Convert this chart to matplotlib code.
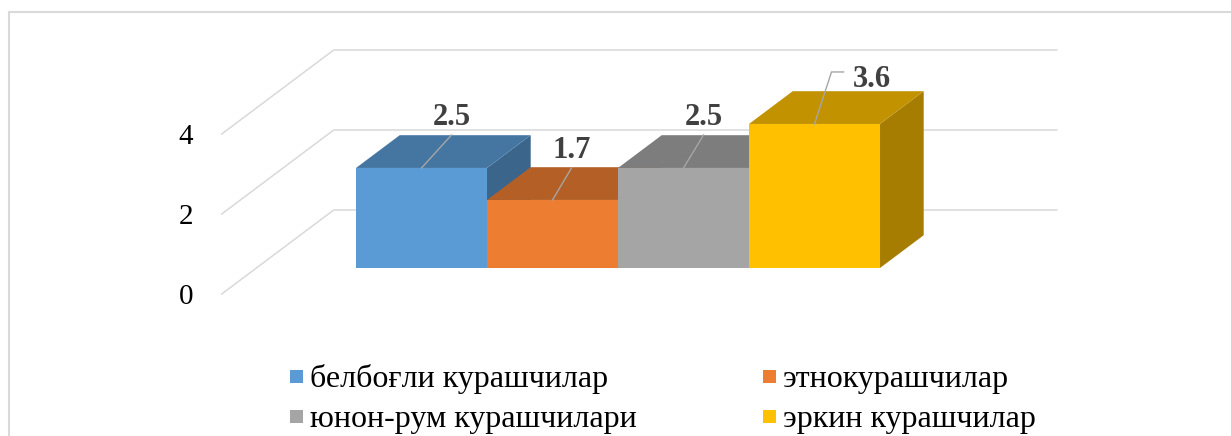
import matplotlib
import matplotlib.pyplot as plt
from matplotlib.patches import Polygon, Rectangle
from matplotlib.colors import to_rgb

categories = ['белбоғли курашчилар', 'этнокурашчилар',
              'юнон-рум курашчилари', 'эркин курашчилар']
values = [2.5, 1.7, 2.5, 3.6]
ticks = [0, 2, 4]
colors = ['#5B9BD5', '#ED7D31', '#A5A5A5', '#FFC000']

W, H = 1231, 436
PX_X, PX_Y = 131.0, 40.0             # pixels per category / per value unit
X0, Y0 = 386.8, 294.0                 # pixel position of category 0, value 0 (front of floor)
DX, DY = 112 / PX_X, 84 / PX_Y        # full floor depth in data units
D0, D1 = 0.31, 0.70                   # bar depth range
FLOOR_L, FLOOR_R = -1.26, 4.26
GRID = '#d9d9d9'


def proj(c, v, d):
    return c + DX * d, v + DY * d


def shade(col, f):
    r, g, b = to_rgb(col)
    return (r * f, g * f, b * f)


plt.rcParams['font.family'] = ['Liberation Serif', 'DejaVu Serif']

fig = plt.figure(figsize=(W / 100, H / 100), dpi=100)
ax = fig.add_axes([0, 0, 1, 1])
ax.set_xlim(-X0 / PX_X, (W - X0) / PX_X)
ax.set_ylim((Y0 - H) / PX_Y, Y0 / PX_Y)
ax.axis('off')

# outer frame (left and top edges only visible)
fig.add_artist(Rectangle((9 / W, -0.2), 1.2, 1.2 - 12 / H, transform=fig.transFigure,
                         fill=False, edgecolor=GRID, linewidth=1.5))

# walls gridlines + tick labels
for t in ticks:
    a = proj(FLOOR_L, t, 0)
    b = proj(FLOOR_L, t, 1)
    c = proj(FLOOR_R, t, 1)
    ax.plot([a[0], b[0], c[0]], [a[1], b[1], c[1]], color=GRID, lw=1.1, zorder=1)
    ax.annotate(str(t), xy=a, xytext=(-36, 0), textcoords='offset pixels',
                ha='center', va='center_baseline', fontsize=21, color='black')

# bars
for i, (v, col) in enumerate(zip(values, colors)):
    c0, c1 = i - 0.5, i + 0.5
    z = 2 + i
    top = [proj(c0, v, D0), proj(c1, v, D0), proj(c1, v, D1), proj(c0, v, D1)]
    side = [proj(c1, 0, D0), proj(c1, 0, D1), proj(c1, v, D1), proj(c1, v, D0)]
    front = [proj(c0, 0, D0), proj(c1, 0, D0), proj(c1, v, D0), proj(c0, v, D0)]
    ax.add_patch(Polygon(side, closed=True, facecolor=shade(col, 0.65), edgecolor='none', zorder=z))
    ax.add_patch(Polygon(top, closed=True, facecolor=shade(col, 0.76), edgecolor='none', zorder=z))
    ax.add_patch(Polygon(front, closed=True, facecolor=col, edgecolor='none', zorder=z))

# data labels with leader lines (offsets in pixels, y up)
label_off = [(30, 54), (19, 53), (20, 54), (57, 48)]
leaders = [[(0, -21)], [(0, -21)], [(0, -21)], [(-40, 4), (-28, 4)]]
for i, v in enumerate(values):
    ax_, ay_ = proj(i, v, D0)
    lx = ax_ + label_off[i][0] / PX_X
    ly = ay_ + label_off[i][1] / PX_Y
    xs = [ax_] + [lx + p[0] / PX_X for p in leaders[i]]
    ys = [ay_] + [ly + p[1] / PX_Y for p in leaders[i]]
    ax.plot(xs, ys, color='#a6a6a6', lw=1.0, zorder=10)
    ax.text(lx, ly, f'{v:.1f}', ha='center', va='center_baseline', fontsize=22,
            fontweight='bold', color='#404040', zorder=11)

# legend
leg_x = [290, 763]
leg_y = [376, 416]
order = [(0, 0), (1, 0), (0, 1), (1, 1)]  # (column, row) for each category
for (col_i, row_i), name, col in zip(order, categories, colors):
    x = leg_x[col_i]
    y = leg_y[row_i]
    fig.add_artist(Rectangle((x / W, 1 - (y + 6.5) / H), 13 / W, 13 / H,
                             transform=fig.transFigure, facecolor=col, edgecolor='none'))
    fig.text((x + 20) / W, 1 - (y + 11) / H, name, ha='left', va='baseline',
             fontsize=23, color='black')

fig.savefig('out.png', dpi=100)
